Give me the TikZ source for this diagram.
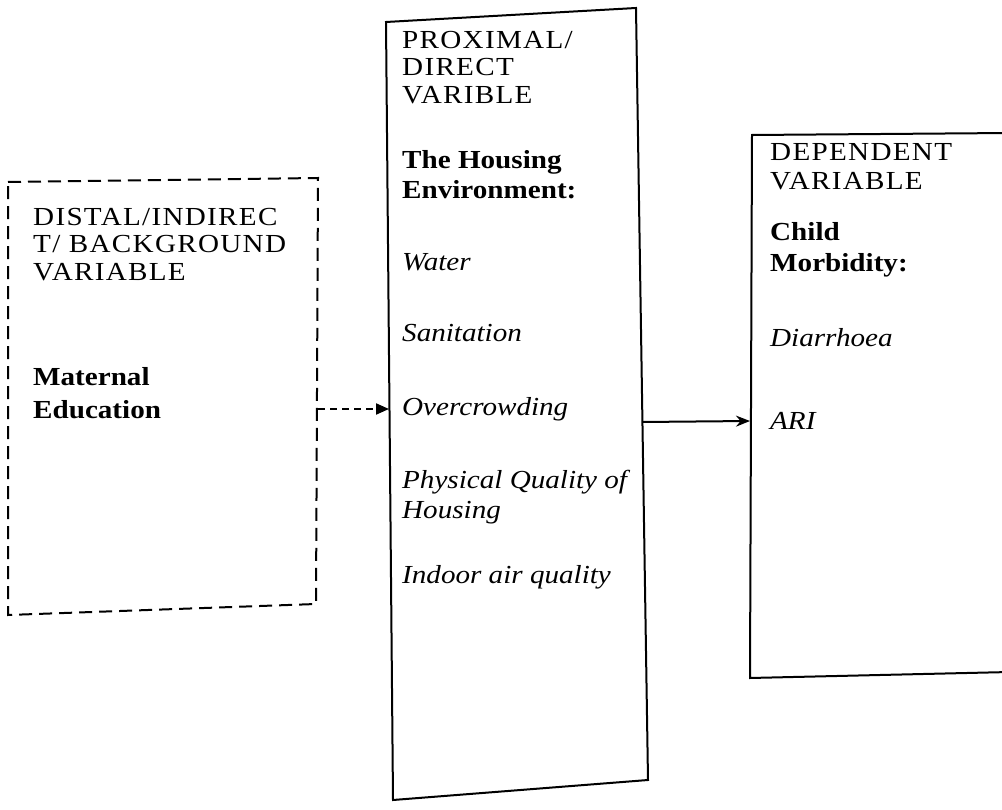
\documentclass[tikz,border=0pt]{standalone}
\usepackage{fontspec}
\setmainfont{Liberation Serif}[FakeStretch=1.12]
\usetikzlibrary{arrows.meta}
\begin{document}
\begin{tikzpicture}[x=1pt,y=-1pt,
  txt/.style={anchor=base west,inner sep=0pt,font=\fontsize{26}{30}\selectfont\addfontfeatures{LetterSpace=5}},
  btxt/.style={anchor=base west,inner sep=0pt,font=\fontsize{26}{30}\selectfont\bfseries},
  itxt/.style={anchor=base west,inner sep=0pt,font=\fontsize{26}{30}\selectfont\itshape},
  solidbox/.style={line width=2pt,line join=miter},
  dashbox/.style={line width=2pt,dash pattern=on 13pt off 7pt},
  dasharrow/.style={line width=2pt,dash pattern=on 7pt off 5pt,-{Triangle[length=13pt,width=11pt]}},
  solidarrow/.style={line width=2pt,-{Stealth[length=14pt,width=11pt]}}
  ]
\useasboundingbox (0,0) rectangle (1002,810);
\clip (0,0) rectangle (1002,810);
% left dashed box
\coordinate (L1) at (8,182);
\coordinate (L2) at (318,178);
\coordinate (L3) at (316,604);
\coordinate (L4) at (8,615);
\draw[dashbox] (L1) -- (L2) -- (L3) -- (L4) -- cycle;
% middle box
\coordinate (M1) at (386,22);
\coordinate (M2) at (636,8);
\coordinate (M3) at (648,780);
\coordinate (M4) at (393,800);
\draw[solidbox] (M1) -- (M2) -- (M3) -- (M4) -- cycle;
% right box
\coordinate (R1) at (752,135);
\coordinate (R2) at (1010,133);
\coordinate (R3) at (1010,672);
\coordinate (R4) at (750,678);
\draw[solidbox] (R1) -- (R2) -- (R3) -- (R4) -- cycle;
% left texts
\node[txt]  (l1) at (33,226) {DISTAL/INDIREC};
\node[txt]  (l2) at (33,253) {T/ BACKGROUND};
\node[txt]  (l3) at (33,281) {VARIABLE};
\node[btxt] (l4) at (33,386) {Maternal};
\node[btxt] (l5) at (33,418) {Education};
% middle texts
\node[txt]  (m1) at (402,49) {PROXIMAL/};
\node[txt]  (m2) at (402,76) {DIRECT};
\node[txt]  (m3) at (402,104) {VARIBLE};
\node[btxt] (m4) at (402,169) {The Housing};
\node[btxt] (m5) at (402,199) {Environment:};
\node[itxt] (m6) at (402,271) {Water};
\node[itxt] (m7) at (402,342) {Sanitation};
\node[itxt] (m8) at (402,416) {Overcrowding};
\node[itxt] (m9) at (402,488) {Physical Quality of};
\node[itxt] (m10) at (402,518) {Housing};
\node[itxt] (m11) at (402,583) {Indoor air quality};
% right texts
\node[txt]  (r1) at (770,161) {DEPENDENT};
\node[txt]  (r2) at (770,190) {VARIABLE};
\node[btxt] (r3) at (770,241) {Child};
\node[btxt] (r4) at (770,272) {Morbidity:};
\node[itxt] (r5) at (770,347) {Diarrhoea};
\node[itxt] (r6) at (770,429) {ARI};
% connectors
\coordinate (a1) at (318,409);
\coordinate (a2) at (389,409);
\coordinate (b1) at (642,422);
\coordinate (b2) at (750,421);
\draw[dasharrow] (a1) -- (a2);
\draw[solidarrow] (b1) -- (b2);
\end{tikzpicture}
\end{document}
